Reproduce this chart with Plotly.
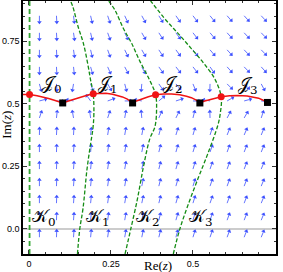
import math
import plotly.graph_objects as go

# ---------------- data ----------------
x_tickvals = [0, 0.25, 0.5, 0.75]
x_ticktext = ["0", "0.25", "0.5", "0.75"]
y_tickvals = [0, 0.25, 0.5, 0.75]
y_ticktext = ["0.0", "0.25", "0.5", "0.75"]

# vector-field grid (arrow tails) and arrow directions (deg, counter-clockwise from +Re)
grid_re = [0.032, 0.084, 0.136, 0.188, 0.240, 0.292, 0.344, 0.396, 0.448, 0.500, 0.552, 0.604, 0.656, 0.708]
grid_im = [-0.033, 0.035, 0.103, 0.171, 0.239, 0.307, 0.375, 0.443, 0.511, 0.579, 0.647, 0.715, 0.783, 0.851]
field_angle = [
    [90, 88, 86, 84, 82, 80, 78, 76, 74, 73, 71, 70, 69, 68],
    [90, 88, 86, 84, 82, 80, 78, 76, 74, 73, 71, 70, 69, 68],
    [90, 88, 86, 84, 82, 80, 78, 76, 74, 73, 71, 70, 69, 68],
    [90, 88, 86, 84, 82, 80, 78, 76, 74, 73, 71, 70, 69, 68],
    [90, 88, 86, 84, 82, 80, 78, 76, 74, 73, 71, 70, 69, 68],
    [90, 88, 86, 84, 82, 80, 78, 76, 74, 73, 71, 70, 69, 68],
    [89, 87, 87, 84, 81, 80, 79, 75, 73, 74, 72, 68, 67, 68],
    [72, 84, 100, 98, 72, 80, 95, 66, 64, 76, 92, 62, 60, 72],
    [15, -5, 170, 125, 20, 0, 170, 40, 18, -2, 170, 30, 15, -5],
    [-75, -85, -100, -70, -60, -75, -95, -55, -50, -68, -92, -45, -45, -62],
    [-90, -87, -84, -74, -66, -62, -62, -55, -52, -52, -55, -48, -46, -48],
    [-90, -87, -82, -77, -70, -64, -60, -57, -54, -52, -50, -48, -47, -46],
    [-90, -87, -82, -77, -70, -64, -60, -57, -54, -52, -50, -48, -47, -46],
    [-90, -87, -83, -77, -71, -65, -61, -58, -55, -53, -51, -49, -48, -47],
]

# red curve through the J points and the black squares
curve_re = [-0.018, 0.002, 0.025, 0.043, 0.060, 0.075, 0.090, 0.103,
            0.118, 0.134, 0.150, 0.165, 0.180, 0.196, 0.215, 0.235, 0.255, 0.272, 0.285, 0.300, 0.316,
            0.330, 0.344, 0.364, 0.386, 0.410, 0.435, 0.460, 0.480, 0.495, 0.510, 0.521,
            0.533, 0.546, 0.566, 0.586, 0.612, 0.637, 0.665, 0.688, 0.700, 0.712, 0.727]
curve_im = [0.537, 0.537, 0.532, 0.527, 0.521, 0.515, 0.509, 0.503,
            0.510, 0.517, 0.523, 0.529, 0.535, 0.540, 0.542, 0.542, 0.538, 0.533, 0.527, 0.518, 0.503,
            0.512, 0.519, 0.528, 0.536, 0.539, 0.539, 0.536, 0.530, 0.524, 0.514, 0.503,
            0.510, 0.515, 0.522, 0.528, 0.532, 0.533, 0.531, 0.527, 0.522, 0.515, 0.505]

J_re = [0.002, 0.196, 0.386, 0.586]
J_im = [0.537, 0.540, 0.536, 0.528]
J_label_re = [0.034, 0.205, 0.403, 0.631]
J_label_im = [0.577, 0.577, 0.577, 0.574]

S_re = [0.103, 0.316, 0.521, 0.727]
S_im = [0.503, 0.503, 0.503, 0.505]

K0_re = [0.002, 0.002]
K0_im = [-0.10, 0.91]
K1_re = [0.148, 0.155, 0.165, 0.177, 0.188, 0.195, 0.198, 0.196, 0.188, 0.181, 0.166, 0.150, 0.134, 0.127]
K1_im = [-0.10, 0.00, 0.083, 0.238, 0.34, 0.40, 0.46, 0.540, 0.594, 0.647, 0.741, 0.807, 0.887, 0.91]
K2_re = [0.293, 0.311, 0.329, 0.340, 0.350, 0.369, 0.384, 0.389, 0.386, 0.368, 0.338, 0.313, 0.288, 0.262, 0.243]
K2_im = [-0.10, 0.003, 0.109, 0.185, 0.255, 0.362, 0.408, 0.475, 0.537, 0.594, 0.670, 0.741, 0.800, 0.874, 0.91]
K3_re = [0.440, 0.460, 0.485, 0.515, 0.545, 0.576, 0.583, 0.586, 0.566, 0.533, 0.495, 0.455, 0.420, 0.371]
K3_im = [-0.10, 0.00, 0.096, 0.20, 0.30, 0.415, 0.46, 0.528, 0.600, 0.661, 0.720, 0.780, 0.830, 0.91]
K_label_re = [0.003, 0.168, 0.320, 0.482]
K_label_im = [0.044, 0.044, 0.044, 0.044]

# ---------------- layout geometry ----------------
W, H = 283, 272
ML, MR, MT, MB = 23, 7, 1, 18
XR = [-0.018, 0.753]
YR = [-0.10, 0.91]
sx = (W - ML - MR) / (XR[1] - XR[0])   # px per unit
sy = (H - MT - MB) / (YR[1] - YR[0])

BLUE = "rgb(60,80,255)"
GREEN = "rgb(20,140,20)"

fig = go.Figure()

# arrows: shafts + heads
L_ARROW = 8.0
shaft_x, shaft_y = [], []
head_x, head_y, head_ang = [], [], []
for j, yv in enumerate(grid_im):
    for i, xv in enumerate(grid_re):
        a = math.radians(field_angle[j][i])
        ux, uy = math.cos(a), math.sin(a)
        base_x = xv + (L_ARROW - 2.5) * ux / sx
        base_y = yv + (L_ARROW - 2.5) * uy / sy
        shaft_x += [xv, base_x, None]
        shaft_y += [yv, base_y, None]
        head_x.append(xv + (L_ARROW - 1.6) * ux / sx)
        head_y.append(yv + (L_ARROW - 1.6) * uy / sy)
        head_ang.append(90 - field_angle[j][i])

fig.add_trace(go.Scatter(x=shaft_x, y=shaft_y, mode="lines",
                         line=dict(color=BLUE, width=0.8), hoverinfo="skip"))
fig.add_trace(go.Scatter(x=head_x, y=head_y, mode="markers",
                         marker=dict(symbol="triangle-up", size=4, angle=head_ang,
                                     color=BLUE, line=dict(width=0)), hoverinfo="skip"))

# K curves
fig.add_trace(go.Scatter(x=K0_re, y=K0_im, mode="lines",
                         line=dict(color="rgb(50,165,50)", width=1.8, dash="5px,3px")))
for kr, ki in [(K1_re, K1_im), (K2_re, K2_im), (K3_re, K3_im)]:
    fig.add_trace(go.Scatter(x=kr, y=ki, mode="lines", line_shape="spline",
                             line=dict(color=GREEN, width=1.3, dash="4px,2px")))

# red curve, J points, squares
fig.add_trace(go.Scatter(x=curve_re, y=curve_im, mode="lines",
                         line=dict(color="rgb(240,20,20)", width=1.5)))
fig.add_trace(go.Scatter(x=J_re, y=J_im, mode="markers",
                         marker=dict(color="rgb(240,20,20)", size=7)))
fig.add_trace(go.Scatter(x=S_re, y=S_im, mode="markers",
                         marker=dict(color="black", size=7, symbol="square")))

# labels
for k in range(4):
    fig.add_annotation(x=J_label_re[k], y=J_label_im[k], xref="x", yref="y",
                       text="𝒥<sub>%d</sub>" % k, showarrow=False, xanchor="left",
                       yanchor="middle", font=dict(family="DejaVu Serif", size=17, color="black"))
    fig.add_annotation(x=K_label_re[k], y=K_label_im[k], xref="x", yref="y",
                       text="𝒦<sub>%d</sub>" % k, showarrow=False, xanchor="left",
                       yanchor="middle", font=dict(family="DejaVu Serif", size=17, color="black"))

fig.add_annotation(x=0.535, y=-0.044, xref="paper", yref="paper", text="Re(<i>z</i>)",
                   showarrow=False, yanchor="middle",
                   font=dict(family="Liberation Serif", size=13, color="black"))
fig.add_annotation(x=-0.064, y=0.51, xref="paper", yref="paper", text="Im(<i>z</i>)",
                   showarrow=False, textangle=-90, xanchor="center", yanchor="middle",
                   font=dict(family="Liberation Serif", size=13, color="black"))

axis_common = dict(showgrid=False, showline=True, linecolor="black", linewidth=1.5,
                   mirror="allticks", ticks="inside", ticklen=4, tickcolor="#333",
                   tickfont=dict(family="Liberation Sans", size=9, color="black"),
                   minor=dict(ticks="inside", ticklen=2, dtick=0.05, tick0=0, tickcolor="#333"))

fig.update_layout(
    width=W, height=H, margin=dict(l=ML, r=MR, t=MT, b=MB),
    paper_bgcolor="white", plot_bgcolor="white", showlegend=False,
    xaxis=dict(range=XR, tickvals=x_tickvals, ticktext=x_ticktext, zeroline=False,
               automargin=False, **axis_common),
    yaxis=dict(range=YR, tickvals=y_tickvals, ticktext=y_ticktext, zeroline=True,
               zerolinecolor="#cccccc", zerolinewidth=2, automargin=False, **axis_common),
)

fig.write_html("out.html", config={"displayModeBar": False},
               post_script="document.body.style.margin='0';document.body.style.overflow='hidden';")
